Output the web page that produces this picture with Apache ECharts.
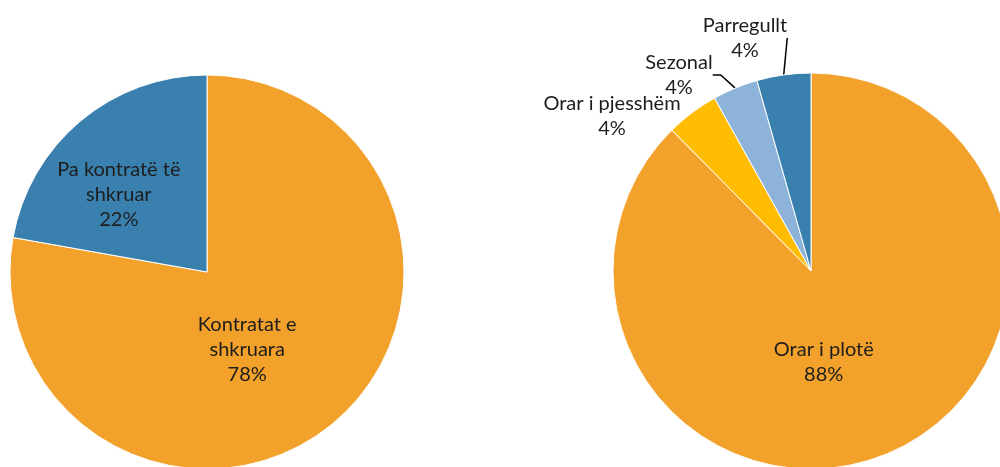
<!DOCTYPE html>
<html>
<head>
<meta charset="utf-8">
<script src="https://cdn.jsdelivr.net/npm/echarts@6/dist/echarts.min.js"></script>
<style>
  html, body { margin: 0; padding: 0; background: #fff; }
  #chart { width: 1000px; height: 467px; }
</style>
</head>
<body>
<div id="chart"></div>
<script>
// left pie: kontrata
const contractNames = ["Kontratat e\nshkruara", "Pa kontratë të\nshkruar"];
const contractValues = [77.8, 22.2];
const contractColors = ["#F2A12A", "#3A80AE"];

// right pie: orari
const scheduleNames = ["Orar i plotë", "Orar i pjesshëm", "Sezonal", "Parregullt"];
const scheduleValues = [87.6, 4.3, 3.7, 4.4];
const scheduleColors = ["#F2A12A", "#FFBC00", "#8DB3DA", "#3A80AE"];

const textStyle = {
  color: "#1d1d1d",
  fontFamily: "Lato",
  fontSize: 20,
  lineHeight: 25
};

// where the small outside labels sit (right pie)
const outsideLabelPos = { 1: [612, 116], 2: [679, 75], 3: [745, 38] };

const chart = echarts.init(document.getElementById("chart"));
chart.setOption({
  animation: false,
  series: [
    {
      type: "pie",
      center: [207, 272],
      radius: 197,
      startAngle: 90,
      percentPrecision: 0,
      itemStyle: { borderColor: "#fff", borderWidth: 1 },
      label: Object.assign({ position: "inside", formatter: "{b}\n{d}%" }, textStyle),
      labelLine: { show: false },
      emphasis: { disabled: true },
      data: contractNames.map((n, i) => ({
        name: n,
        value: contractValues[i],
        itemStyle: { color: contractColors[i] },
        label: { offset: i === 0 ? [-25, 0] : [-23, 0] }
      }))
    },
    {
      type: "pie",
      center: [811, 271],
      radius: 198,
      startAngle: 90,
      percentPrecision: 0,
      itemStyle: { borderColor: "#fff", borderWidth: 1 },
      label: Object.assign({ formatter: "{b}\n{d}%" }, textStyle),
      labelLine: { show: true, length: 10, length2: 8, lineStyle: { color: "#000", width: 1.5 } },
      emphasis: { disabled: true },
      labelLayout: function (params) {
        const p = outsideLabelPos[params.dataIndex];
        if (!p) return {};
        return { x: p[0], y: p[1], align: "center", verticalAlign: "middle" };
      },
      data: scheduleNames.map((n, i) => ({
        name: n,
        value: scheduleValues[i],
        itemStyle: { color: scheduleColors[i] },
        label: i === 0
          ? { position: "inside", offset: [-26, -3] }
          : { position: "outside" },
        labelLine: { show: i !== 0 && i !== 1 }
      }))
    }
  ]
});
</script>
</body>
</html>
